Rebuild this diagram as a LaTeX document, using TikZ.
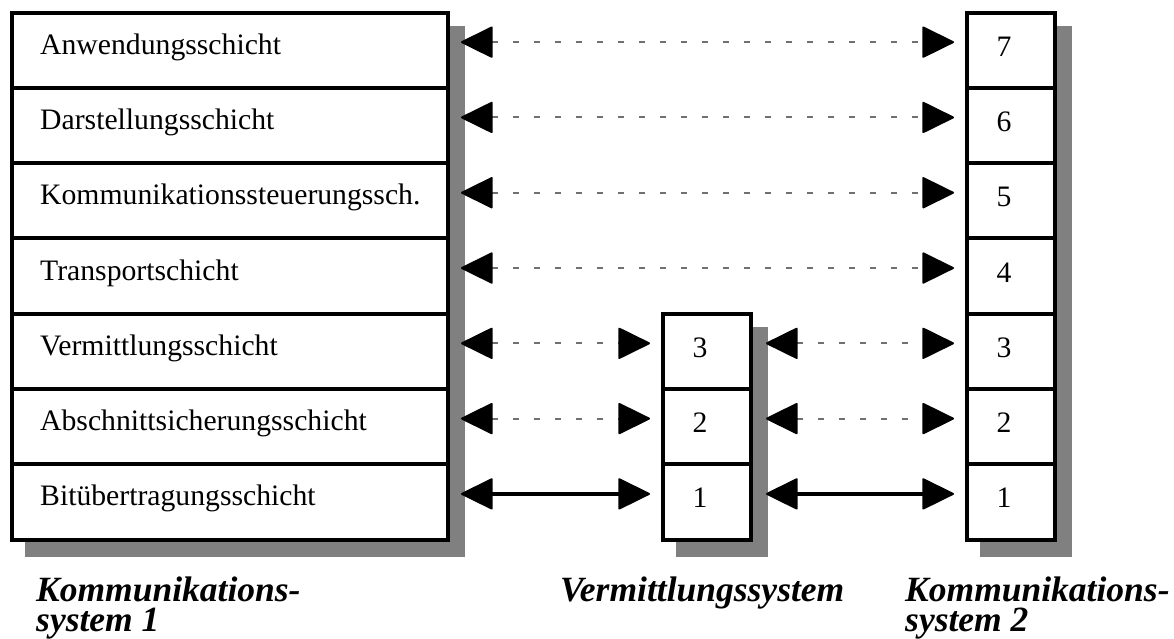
\documentclass[tikz,border=0pt]{standalone}
\usepackage{fontspec}
\setmainfont{Liberation Serif}
\usetikzlibrary{arrows.meta,backgrounds}
\definecolor{shadowgray}{RGB}{128,128,128}
\definecolor{dashgray}{RGB}{112,112,112}

\begin{document}
\begin{tikzpicture}[x=1pt,y=-1pt,
  layerbox/.style={draw=black, line width=4pt, fill=white, rectangle,
    inner sep=0pt, outer sep=0pt, minimum height=75.29pt},
  widebox/.style={layerbox, minimum width=436pt},
  narrowbox/.style={layerbox, minimum width=88pt},
  rowtext/.style={font=\fontsize{29.7}{32}\selectfont, anchor=base west, inner sep=0pt},
  numtext/.style={font=\fontsize{29.7}{32}\selectfont, anchor=base, inner sep=0pt},
  syslabel/.style={font=\fontsize{35.5}{30}\selectfont\bfseries\itshape,
    anchor=base west, align=left, inner sep=0pt},
  shadowfill/.style={fill=shadowgray},
  peertip/.tip={Triangle[length=33pt,width=32pt,line width=2pt,round,color=black]},
  peer/.style={draw=dashgray, line width=2pt, dash pattern=on 5.5pt off 15.5pt, peertip-peertip},
  wire/.style={draw=black, line width=4pt, peertip-peertip},
]
\useasboundingbox (0,0) rectangle (1174,638);

% end systems: left stack with names, right stack with numbers
\foreach \i/\t in {7/Anwendungsschicht, 6/Darstellungsschicht,
    5/Kommunikationssteuerungssch., 4/Transportschicht,
    3/Vermittlungsschicht, 2/Abschnittsicherungsschicht,
    1/Bitübertragungsschicht} {
  \pgfmathsetmacro\yc{12.5+(7.5-\i)*75.29}
  \node[widebox] (L\i) at (230,\yc) {};
  \node[rowtext] (tL\i) at ([shift={(28,4)}]L\i.west) {\t};
  \node[narrowbox] (R\i) at (1011,\yc) {};
  \node[numtext] (tR\i) at ([shift={(-7,6)}]R\i.center) {\i};
}

% intermediate system: layers 1 to 3
\foreach \i in {3,2,1} {
  \pgfmathsetmacro\yc{12.5+(7.5-\i)*75.29}
  \node[narrowbox] (M\i) at (707,\yc) {};
  \node[numtext] (tM\i) at ([shift={(-7,6)}]M\i.center) {\i};
}

% drop shadows behind the stacks
\begin{scope}[on background layer]
  \fill[shadowfill] ([shift={(13,13)}]L7.north west) rectangle ([shift={(17,17)}]L1.south east);
  \fill[shadowfill] ([shift={(13,13)}]M3.north west) rectangle ([shift={(17,17)}]M1.south east);
  \fill[shadowfill] ([shift={(13,13)}]R7.north west) rectangle ([shift={(17,17)}]R1.south east);
\end{scope}

% peer protocols of the upper layers
\foreach \i in {7,6,5,4} {
  \draw[peer] ([shift={(13,-8)}]L\i.east) -- ([shift={(-13,-8)}]R\i.west);
}
% peer protocols via the intermediate system
\foreach \i in {3,2} {
  \draw[peer] ([shift={(13,-8)}]L\i.east) -- ([shift={(-13,-8)}]M\i.west);
  \draw[peer] ([shift={(15,-8)}]M\i.east) -- ([shift={(-13,-8)}]R\i.west);
}
% physical medium
\draw[wire] ([shift={(13,-8)}]L1.east) -- ([shift={(-13,-8)}]M1.west);
\draw[wire] ([shift={(15,-8)}]M1.east) -- ([shift={(-13,-8)}]R1.west);

% system captions (base anchor of a two-line node is its last line)
\node[syslabel] (cap1) at (36,631) {Kommunikations-\\system 1};
\node[syslabel] (capM) at (560,601) {Vermittlungssystem};
\node[syslabel] (cap2) at (905,631) {Kommunikations-\\system 2};
\end{tikzpicture}
\end{document}
